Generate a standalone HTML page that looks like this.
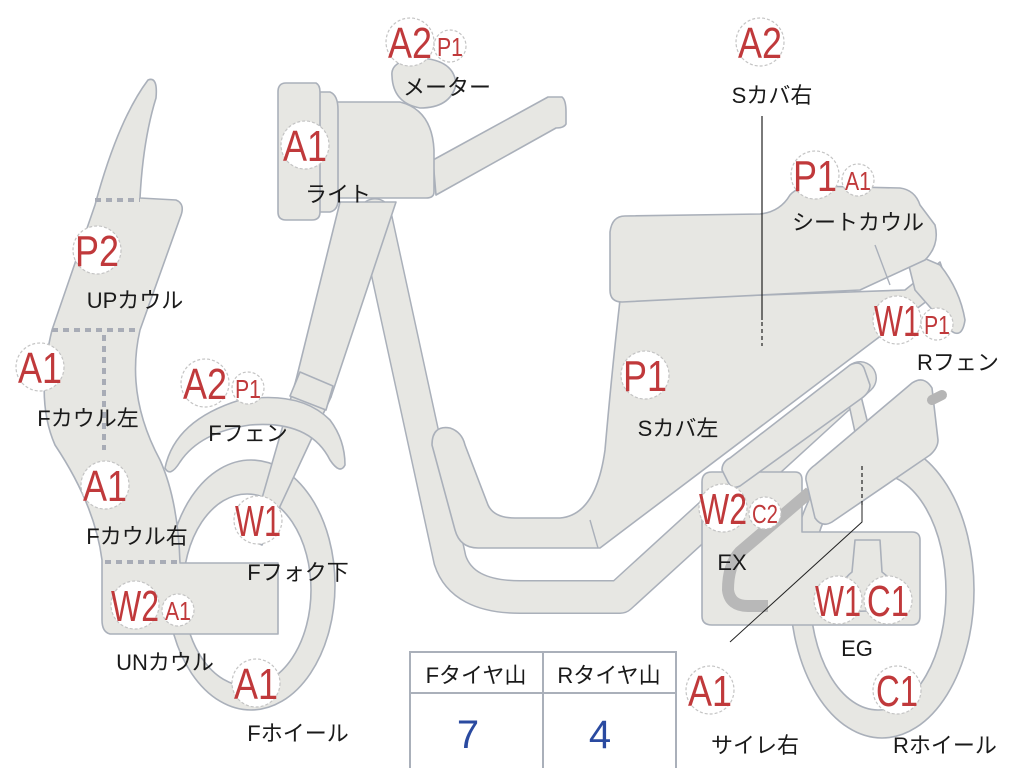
<!DOCTYPE html>
<html><head><meta charset="utf-8"><style>
html,body{margin:0;padding:0;background:#fff;width:1024px;height:768px;overflow:hidden}
svg{display:block}
.s{fill:#e7e7e3;stroke:#aab0ba;stroke-width:1.6;stroke-linejoin:round}
.w{fill:#fff;stroke:#aab0ba;stroke-width:1.6}
.r{fill:#c0393b;font-family:"Liberation Sans","DejaVu Sans",sans-serif;text-anchor:middle}
.k{fill:#1a1a1a;font-family:"Liberation Sans","Noto Sans CJK JP",sans-serif;font-size:22px;text-anchor:middle}
.c{fill:#fff;stroke:#c4c4c4;stroke-width:1.2;stroke-dasharray:3 2}
</style></head><body>
<svg width="1024" height="768" viewBox="0 0 1024 768" xmlns="http://www.w3.org/2000/svg">
<!-- rear wheel -->
<ellipse class="s" cx="882" cy="590" rx="92" ry="148"/>
<ellipse class="w" cx="878" cy="592" rx="68" ry="118"/>
<!-- front wheel -->
<ellipse class="s" cx="251" cy="585" rx="84" ry="125"/>
<ellipse class="w" cx="247" cy="590" rx="64" ry="96"/>
<!-- main frame -->
<path d="M375,215 L450,560 Q462,597 520,597 L620,597 L860,378" fill="none" stroke="#aab0ba" stroke-width="34" stroke-linecap="round" stroke-linejoin="round"/>
<path d="M375,215 L450,560 Q462,597 520,597 L620,597 L860,378" fill="none" stroke="#e7e7e3" stroke-width="31" stroke-linecap="round" stroke-linejoin="round"/>
<!-- front fork -->
<polygon class="s" points="340,202 396,202 331,397 296,380"/>
<polygon class="s" points="296,380 331,397 262,545 250,540"/>
<polygon class="s" points="300,372 333,386 326,410 290,396"/>
<!-- front fender -->
<path class="s" d="M165,468 Q175,420 240,400 Q300,390 330,420 Q345,440 345,465 Q340,475 330,460 Q310,420 250,425 Q200,432 180,462 Q170,478 165,468 Z"/>
<!-- body / S cover + floor -->
<path class="s" d="M620,300 L905,290 L940,262 L948,285 L600,548 L478,548 Q460,548 455,530 L432,445 Q432,425 450,428 Q462,432 465,445 L488,505 Q494,518 515,518 L560,518 Q596,515 605,450 Q612,370 620,300 Z"/>
<path d="M590,520 L598,548" stroke="#aab0ba" stroke-width="1.4"/>
<!-- rear fender tail -->
<path class="s" d="M905,250 L940,265 Q960,290 965,320 Q962,340 950,330 L915,290 Z"/>
<!-- seat -->
<path class="s" d="M625,216 L760,214 Q780,212 790,195 Q798,186 815,186 L900,188 Q915,190 920,205 L935,225 Q940,245 925,260 L860,290 L622,302 Q610,302 610,290 L610,232 Q612,216 625,216 Z"/>
<path d="M875,245 L890,285" stroke="#aab0ba" stroke-width="1.4"/>
<!-- engine -->
<path class="s" d="M712,472 L795,472 Q802,472 802,480 L802,532 L912,532 Q920,532 920,540 L920,616 Q920,625 912,625 L712,625 Q702,625 702,616 L702,482 Q702,472 712,472 Z"/>
<path class="s" d="M855,540 L880,540 L882,572 Q900,585 895,610 L840,612 Q835,585 852,572 Z"/>
<!-- shock bar -->
<polygon class="s" points="848,400 860,392 872,440 858,446"/>
<!-- rear bar on top -->
<path class="s" d="M850,365 Q860,360 864,368 L870,385 Q870,392 862,398 L740,486 Q732,490 728,482 L722,470 Q722,462 730,458 Z"/>
<!-- exhaust -->
<path d="M810,492 L740,552 Q728,565 728,590 Q730,606 748,606 L768,606" fill="none" stroke="#b8b8b8" stroke-width="12" stroke-linecap="butt"/>
<!-- air box -->
<path class="s" d="M815,465 L912,383 Q924,375 932,388 L938,440 Q938,448 930,455 L832,522 Q822,528 815,518 L806,480 Q805,472 815,465 Z"/>
<path d="M932,400 L942,395" stroke="#b5b5b5" stroke-width="10" stroke-linecap="round"/>
<!-- front cowl -->
<path class="s" d="M148,80 Q158,76 156,98 Q143,140 140,198 L176,200 Q186,204 180,218 L140,330 Q125,395 160,460 Q178,500 180,563 L278,563 L278,634 L110,634 Q102,632 102,620 L102,560 Q95,505 55,445 Q35,400 52,330 L95,205 Q118,120 148,80 Z"/>
<path d="M95,200 L140,200 M52,330 L140,330 M104,335 L104,450 M105,562 L180,562" stroke="#a8acb6" stroke-width="4" stroke-dasharray="6 5" fill="none"/>
<!-- headlight & handlebar -->
<path class="s" d="M433,160 L548,97 L562,97 Q566,100 566,112 L566,124 Q564,128 556,128 L436,195 Z"/>
<path class="s" d="M336,102 L400,102 Q432,110 434,150 L434,192 Q434,198 426,198 L336,198 Z"/>
<path class="s" d="M392,76 Q390,60 420,58 Q455,60 456,85 Q450,108 420,108 Q393,103 392,76 Z"/>
<path class="s" d="M318,92 L330,92 Q338,95 338,110 L338,200 Q338,210 330,212 L318,212 Z"/>
<path class="s" d="M286,83 L316,83 Q320,85 320,92 L320,212 Q320,220 312,220 L286,220 Q278,220 278,212 L278,92 Q278,83 286,83 Z"/>
<!-- leader lines -->
<path d="M762,116 L762,320" stroke="#222" stroke-width="1.2"/>
<path d="M762,322 L762,346" stroke="#222" stroke-width="1.2" stroke-dasharray="4 3"/>
<path d="M862,466 L862,505" stroke="#222" stroke-width="1.2" stroke-dasharray="4 3"/>
<path d="M862,505 L862,522 L730,642" stroke="#222" stroke-width="1" fill="none"/>
<!-- table -->
<rect x="410" y="652" width="266" height="120" fill="#fff" stroke="#aab0ba" stroke-width="2"/>
<line x1="410" y1="693" x2="676" y2="693" stroke="#aab0ba" stroke-width="2"/>
<line x1="543" y1="652" x2="543" y2="768" stroke="#aab0ba" stroke-width="2"/>
<text class="k" x="476" y="683">Fタイヤ山</text>
<text class="k" x="609" y="683">Rタイヤ山</text>
<text x="468" y="748" fill="#2a4aa0" font-family="Liberation Sans,sans-serif" font-size="40" text-anchor="middle">7</text>
<text x="600" y="748" fill="#2a4aa0" font-family="Liberation Sans,sans-serif" font-size="40" text-anchor="middle">4</text>

<g>
<circle class="c" cx="410" cy="42" r="24"/><text class="r" x="410" y="58" font-size="44" textLength="44" lengthAdjust="spacingAndGlyphs">A2</text>
<circle class="c" cx="450" cy="46" r="16"/><text class="r" x="450" y="56" font-size="26" textLength="26" lengthAdjust="spacingAndGlyphs">P1</text>
<text class="k" x="447" y="95">メーター</text>

<circle class="c" cx="760" cy="42" r="24"/><text class="r" x="760" y="58" font-size="44" textLength="44" lengthAdjust="spacingAndGlyphs">A2</text>
<text class="k" x="772" y="103">Sカバ右</text>

<circle class="c" cx="305" cy="145" r="24"/><text class="r" x="305" y="161" font-size="44" textLength="44" lengthAdjust="spacingAndGlyphs">A1</text>
<text class="k" x="338" y="202">ライト</text>

<circle class="c" cx="815" cy="175" r="24"/><text class="r" x="815" y="191" font-size="44" textLength="44" lengthAdjust="spacingAndGlyphs">P1</text>
<circle class="c" cx="858" cy="180" r="16"/><text class="r" x="858" y="190" font-size="26" textLength="26" lengthAdjust="spacingAndGlyphs">A1</text>
<text class="k" x="858" y="230">シートカウル</text>

<circle class="c" cx="97" cy="250" r="24"/><text class="r" x="97" y="266" font-size="44" textLength="44" lengthAdjust="spacingAndGlyphs">P2</text>
<text class="k" x="135" y="308">UPカウル</text>

<circle class="c" cx="40" cy="367" r="24"/><text class="r" x="40" y="383" font-size="44" textLength="44" lengthAdjust="spacingAndGlyphs">A1</text>
<text class="k" x="88" y="426">Fカウル左</text>

<circle class="c" cx="205" cy="383" r="24"/><text class="r" x="205" y="399" font-size="44" textLength="44" lengthAdjust="spacingAndGlyphs">A2</text>
<circle class="c" cx="248" cy="388" r="16"/><text class="r" x="248" y="398" font-size="26" textLength="26" lengthAdjust="spacingAndGlyphs">P1</text>
<text class="k" x="248" y="441">Fフェン</text>

<circle class="c" cx="645" cy="375" r="24"/><text class="r" x="645" y="391" font-size="44" textLength="44" lengthAdjust="spacingAndGlyphs">P1</text>
<text class="k" x="678" y="436">Sカバ左</text>

<circle class="c" cx="897" cy="320" r="24"/><text class="r" x="897" y="336" font-size="44" textLength="46" lengthAdjust="spacingAndGlyphs">W1</text>
<circle class="c" cx="937" cy="324" r="16"/><text class="r" x="937" y="334" font-size="26" textLength="26" lengthAdjust="spacingAndGlyphs">P1</text>
<text class="k" x="958" y="370">Rフェン</text>

<circle class="c" cx="105" cy="485" r="24"/><text class="r" x="105" y="501" font-size="44" textLength="44" lengthAdjust="spacingAndGlyphs">A1</text>
<text class="k" x="137" y="544">Fカウル右</text>

<circle class="c" cx="258" cy="520" r="24"/><text class="r" x="258" y="536" font-size="44" textLength="46" lengthAdjust="spacingAndGlyphs">W1</text>
<text class="k" x="298" y="580">Fフォク下</text>

<circle class="c" cx="723" cy="508" r="24"/><text class="r" x="723" y="524" font-size="44" textLength="48" lengthAdjust="spacingAndGlyphs">W2</text>
<circle class="c" cx="765" cy="513" r="16"/><text class="r" x="765" y="523" font-size="26" textLength="26" lengthAdjust="spacingAndGlyphs">C2</text>
<text class="k" x="732" y="570">EX</text>

<circle class="c" cx="135" cy="605" r="24"/><text class="r" x="135" y="621" font-size="44" textLength="48" lengthAdjust="spacingAndGlyphs">W2</text>
<circle class="c" cx="178" cy="610" r="16"/><text class="r" x="178" y="620" font-size="26" textLength="26" lengthAdjust="spacingAndGlyphs">A1</text>
<text class="k" x="165" y="670">UNカウル</text>

<circle class="c" cx="838" cy="600" r="24"/><text class="r" x="838" y="616" font-size="44" textLength="46" lengthAdjust="spacingAndGlyphs">W1</text>
<circle class="c" cx="888" cy="600" r="24"/><text class="r" x="888" y="616" font-size="44" textLength="42" lengthAdjust="spacingAndGlyphs">C1</text>
<text class="k" x="857" y="656">EG</text>

<circle class="c" cx="256" cy="683" r="24"/><text class="r" x="256" y="699" font-size="44" textLength="44" lengthAdjust="spacingAndGlyphs">A1</text>
<text class="k" x="298" y="741">Fホイール</text>

<circle class="c" cx="710" cy="690" r="24"/><text class="r" x="710" y="706" font-size="44" textLength="44" lengthAdjust="spacingAndGlyphs">A1</text>
<text class="k" x="755" y="753">サイレ右</text>

<circle class="c" cx="897" cy="690" r="24"/><text class="r" x="897" y="706" font-size="44" textLength="42" lengthAdjust="spacingAndGlyphs">C1</text>
<text class="k" x="945" y="753">Rホイール</text>
</g>
</svg>
</body></html>
